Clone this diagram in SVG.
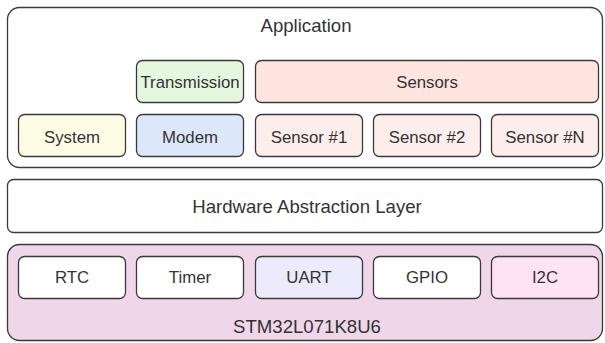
<svg xmlns="http://www.w3.org/2000/svg" width="605" height="343" viewBox="0 0 605 343">
  <style>
    .box { stroke: #3a3a3a; stroke-width: 1.3; }
    .layer { rx: 12; ry: 12; }
    .blk { rx: 6; ry: 6; }
    text { font-family: "Liberation Sans", Arial, sans-serif; font-size: 16.8px; fill: #333333; text-anchor: middle; }
    .big { font-size: 18.6px; }
  </style>

  <!-- Application layer -->
  <g id="application">
    <rect class="box layer" x="7.5" y="7.5" width="595" height="160" fill="#ffffff"/>
    <text class="big" x="306" y="32">Application</text>
  </g>
  <g id="transmission">
    <rect class="box blk" x="136.5" y="60.5" width="107" height="42" fill="#e6f7df"/>
    <text x="190" y="88">Transmission</text>
  </g>
  <g id="sensors">
    <rect class="box blk" x="255.5" y="60.5" width="343" height="42" fill="#ffe4e0"/>
    <text x="427" y="88">Sensors</text>
  </g>
  <g id="system">
    <rect class="box blk" x="18.5" y="114.5" width="107" height="42" fill="#fdfde6"/>
    <text x="72" y="143">System</text>
  </g>
  <g id="modem">
    <rect class="box blk" x="136.5" y="114.5" width="107" height="42" fill="#dce8fa"/>
    <text x="190" y="143">Modem</text>
  </g>
  <g id="sensor1">
    <rect class="box blk" x="255.5" y="114.5" width="107" height="42" fill="#fdeeec"/>
    <text x="309" y="143">Sensor #1</text>
  </g>
  <g id="sensor2">
    <rect class="box blk" x="373.5" y="114.5" width="107" height="42" fill="#fdeeec"/>
    <text x="427" y="143">Sensor #2</text>
  </g>
  <g id="sensorN">
    <rect class="box blk" x="491.5" y="114.5" width="107" height="42" fill="#fdeeec"/>
    <text x="545" y="143">Sensor #N</text>
  </g>

  <!-- Hardware abstraction layer -->
  <g id="hal">
    <rect class="box blk" x="7.5" y="179.5" width="595" height="53" fill="#ffffff"/>
    <text class="big" x="307" y="213">Hardware Abstraction Layer</text>
  </g>

  <!-- MCU and its peripherals -->
  <g id="mcu">
    <rect class="box layer" x="7.5" y="244.5" width="595" height="96" fill="#efd6e8"/>
    <text class="big" x="307" y="333">STM32L071K8U6</text>
  </g>
  <g id="rtc">
    <rect class="box blk" x="18.5" y="256.5" width="107" height="42" fill="#ffffff"/>
    <text x="72" y="283">RTC</text>
  </g>
  <g id="timer">
    <rect class="box blk" x="136.5" y="256.5" width="107" height="42" fill="#ffffff"/>
    <text x="190" y="283">Timer</text>
  </g>
  <g id="uart">
    <rect class="box blk" x="255.5" y="256.5" width="107" height="42" fill="#ecebfc"/>
    <text x="309" y="283">UART</text>
  </g>
  <g id="gpio">
    <rect class="box blk" x="373.5" y="256.5" width="107" height="42" fill="#ffffff"/>
    <text x="427" y="283">GPIO</text>
  </g>
  <g id="i2c">
    <rect class="box blk" x="491.5" y="256.5" width="107" height="42" fill="#fde3f3"/>
    <text x="545" y="283">I2C</text>
  </g>

  <g id="connectors"/>
</svg>
